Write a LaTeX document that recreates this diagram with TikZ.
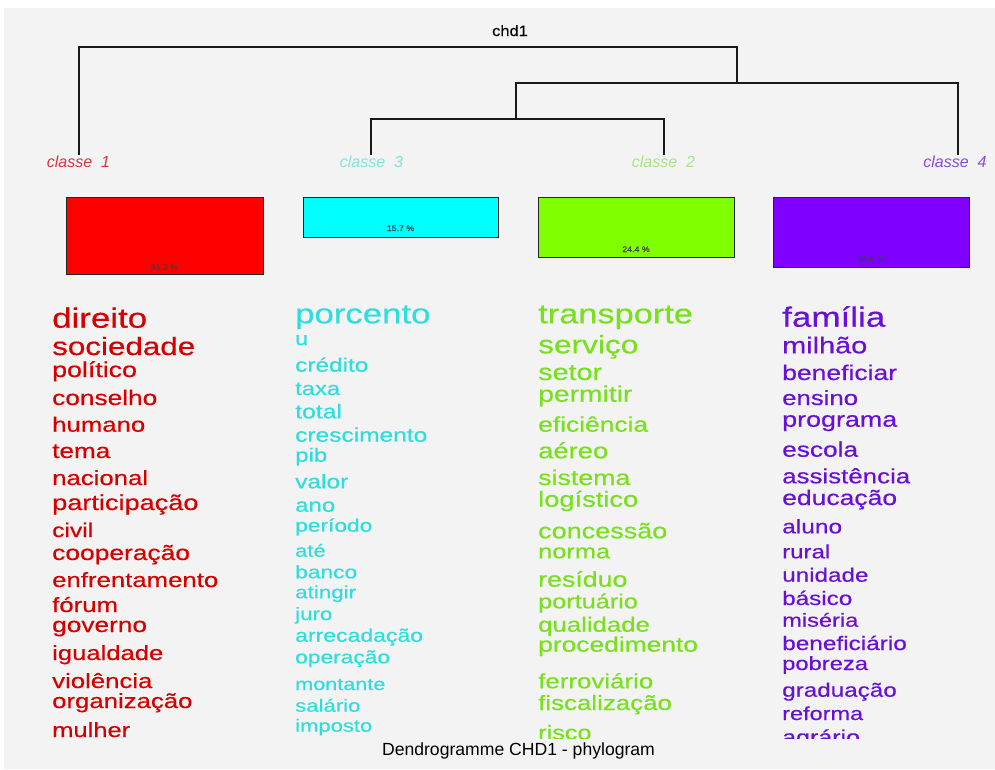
\documentclass[tikz,border=0pt]{standalone}
\usepackage{fontspec}
\setmainfont{Liberation Sans}
\newfontfamily\wf[FakeStretch=1.25,FakeBold=0.4]{Liberation Sans}
\newfontfamily\tf[FakeStretch=1.1,FakeBold=0.3]{Liberation Sans}
\definecolor{bg}{HTML}{F3F3F3}
\definecolor{cR}{HTML}{D50000}
\definecolor{cC}{HTML}{2EDDDD}
\definecolor{cG}{HTML}{78E01C}
\definecolor{cP}{HTML}{6A0FD8}
\definecolor{lR}{HTML}{D0383C}
\definecolor{lC}{HTML}{7FE3E3}
\definecolor{lG}{HTML}{A6E67E}
\definecolor{lP}{HTML}{8A4CD0}
\definecolor{bR}{HTML}{FF0000}
\definecolor{bC}{HTML}{00FFFF}
\definecolor{bG}{HTML}{80FF00}
\definecolor{bP}{HTML}{7F00FF}
\newcommand\wordat[4]{\node[word,font={\wf\fontsize{#2}{#2}\selectfont}] (#1) at (#3) {#4};}
\begin{document}
\begin{tikzpicture}[x=1pt,y=-1pt,
  word/.style={anchor=base west,inner sep=0pt},
  dend/.style={line width=1.3pt,draw=black!90},
  cls/.style={anchor=base,inner sep=0pt,font={\fontsize{16}{16}\selectfont\itshape}},
  pbox/.style={draw=black!85,line width=1.2pt,anchor=north west,inner sep=0pt},
  pct/.style={anchor=base,inner sep=0pt,text=black!75,font={\tf\fontsize{8}{8}\selectfont}}]
\useasboundingbox (0,0) rectangle (995,769);
\fill[white] (0,0) rectangle (995,769);
\fill[bg] (4,8) rectangle (995,769);
% title
\node[anchor=base,inner sep=0pt,font={\tf\fontsize{15}{15}\selectfont}] (top) at (510,36) {chd1};
% dendrogram
\coordinate (r0) at (79,47); \coordinate (r1) at (737,47);
\coordinate (a0) at (516,83); \coordinate (a1) at (958,83);
\coordinate (s0) at (371,119); \coordinate (s1) at (664,119);
\coordinate (e1) at (79,155); \coordinate (e3) at (371,155);
\coordinate (e2) at (664,155); \coordinate (e4) at (958,155);
\draw[dend] (e1) -- (r0) -- (r1) -- (r1 |- a0);
\draw[dend] (a0 |- s0) -- (a0) -- (a1) -- (e4);
\draw[dend] (e3) -- (s0) -- (s1) -- (e2);
% class labels
\node[cls,text=lR] (k1) at (78.5,167) {classe\ \ 1};
\node[cls,text=lC] (k3) at (371.5,167) {classe\ \ 3};
\node[cls,text=lG] (k2) at (663.5,167) {classe\ \ 2};
\node[cls,text=lP] (k4) at (955,167) {classe\ \ 4};
% boxes
\node[pbox,fill=bR,minimum width=197pt,minimum height=77pt] (b1) at (66,197) {};
\node[pbox,fill=bC,minimum width=195pt,minimum height=40pt] (b3) at (303,197) {};
\node[pbox,fill=bG,minimum width=196pt,minimum height=60pt] (b2) at (538,197) {};
\node[pbox,fill=bP,minimum width=196pt,minimum height=70pt] (b4) at (773,197) {};
\node[pct] (p1) at (164.5,270) {31.3 \%};
\node[pct] (p3) at (400.5,231) {15.7 \%};
\node[pct] (p2) at (636,252) {24.4 \%};
\node[pct] (p4) at (871,262) {28.6 \%};
% words
\begin{scope}
\clip (0,290) rectangle (995,738);
\begin{scope}[word/.append style={text=cR}]
\wordat{w11}{27.9}{52,327.7}{direito}
\wordat{w12}{25.1}{52,355}{sociedade}
\wordat{w13}{21.4}{52,377}{político}
\wordat{w14}{21.0}{52,405}{conselho}
\wordat{w15}{20.6}{52,431.7}{humano}
\wordat{w16}{20.9}{52,458}{tema}
\wordat{w17}{20.6}{52,485}{nacional}
\wordat{w18}{21.7}{52,510}{participação}
\wordat{w19}{19.7}{52,537}{civil}
\wordat{w110}{21.1}{52,560}{cooperação}
\wordat{w111}{20.6}{52,587}{enfrentamento}
\wordat{w112}{20.6}{52,612}{fórum}
\wordat{w113}{21.0}{52,632}{governo}
\wordat{w114}{20.5}{52,660}{igualdade}
\wordat{w115}{20.6}{52,688}{violência}
\wordat{w116}{20.6}{52,708}{organização}
\wordat{w117}{20.4}{52,737}{mulher}
\end{scope}
\begin{scope}[word/.append style={text=cC}]
\wordat{w31}{27.8}{295,323.3}{porcento}
\wordat{w32}{18.5}{295,345}{u}
\wordat{w33}{19.5}{295,371.7}{crédito}
\wordat{w34}{19.0}{295,395}{taxa}
\wordat{w35}{19.8}{295,418.3}{total}
\wordat{w36}{19.6}{295,441.7}{crescimento}
\wordat{w37}{19.2}{295,461.7}{pib}
\wordat{w38}{19.6}{295,488.3}{valor}
\wordat{w39}{19.2}{295,511.7}{ano}
\wordat{w310}{18.2}{295,531.7}{período}
\wordat{w311}{17.5}{295,556.7}{até}
\wordat{w312}{18.2}{295,578.3}{banco}
\wordat{w313}{17.9}{295,598.3}{atingir}
\wordat{w314}{17.8}{295,620}{juro}
\wordat{w315}{18.4}{295,641.7}{arrecadação}
\wordat{w316}{18.2}{295,663.3}{operação}
\wordat{w317}{17.3}{295,690}{montante}
\wordat{w318}{17.7}{295,711.7}{salário}
\wordat{w319}{17.6}{295,731.7}{imposto}
\end{scope}
\begin{scope}[word/.append style={text=cG}]
\wordat{w21}{27.5}{538,323.3}{transporte}
\wordat{w22}{25.3}{538,353.3}{serviço}
\wordat{w23}{23.0}{538,380}{setor}
\wordat{w24}{22.6}{538,401.7}{permitir}
\wordat{w25}{21.1}{538,431.7}{eficiência}
\wordat{w26}{21.9}{538,458.3}{aéreo}
\wordat{w27}{21.4}{538,485}{sistema}
\wordat{w28}{21.8}{538,506.7}{logístico}
\wordat{w29}{21.6}{538,538.3}{concessão}
\wordat{w210}{20.3}{538,558.3}{norma}
\wordat{w211}{21.4}{538,586.7}{resíduo}
\wordat{w212}{20.2}{538,608.3}{portuário}
\wordat{w213}{20.6}{538,631.7}{qualidade}
\wordat{w214}{21.1}{538,651.7}{procedimento}
\wordat{w215}{20.7}{538,688.3}{ferroviário}
\wordat{w216}{20.7}{538,710}{fiscalização}
\node[word,text depth=0pt,font={\wf\fontsize{20.2}{20.2}\selectfont}] (w217) at (538,739.5) {risco};
\end{scope}
\begin{scope}[word/.append style={text=cP}]
\wordat{w41}{28.0}{782,326.7}{família}
\wordat{w42}{23.1}{782,353.3}{milhão}
\wordat{w43}{21.2}{782,380}{beneficiar}
\wordat{w44}{20.6}{782,405}{ensino}
\wordat{w45}{21.5}{782,426.7}{programa}
\wordat{w46}{21.0}{782,456.7}{escola}
\wordat{w47}{20.7}{782,483.3}{assistência}
\wordat{w48}{21.2}{782,505}{educação}
\wordat{w49}{19.6}{782,533.3}{aluno}
\wordat{w410}{19.2}{782,558.3}{rural}
\wordat{w411}{19.4}{782,581.7}{unidade}
\wordat{w412}{19.4}{782,605}{básico}
\wordat{w413}{18.9}{782,626.7}{miséria}
\wordat{w414}{19.5}{782,650}{beneficiário}
\wordat{w415}{19.0}{782,670}{pobreza}
\wordat{w416}{19.4}{782,696.7}{graduação}
\wordat{w417}{18.8}{782,720}{reforma}
\node[word,text depth=0pt,font={\wf\fontsize{20}{20}\selectfont}] (w418) at (782,744) {agrário};
\end{scope}
\end{scope}
\node[anchor=base,inner sep=0pt,font={\fontsize{17.6}{17.6}\selectfont}] (ttl) at (518.5,755) {Dendrogramme CHD1 - phylogram};
\end{tikzpicture}
\end{document}
